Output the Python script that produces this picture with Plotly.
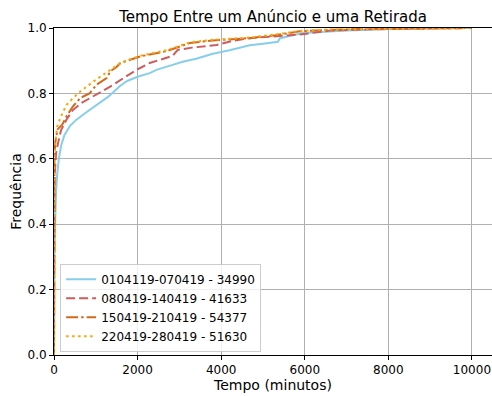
import plotly.graph_objects as go

# Series data (CDF of time between an ad and its removal)
labels = ["0104119-070419 - 34990", "080419-140419 - 41633",
          "150419-210419 - 54377", "220419-280419 - 51630"]

x_s1 = [0, 0, 10, 20, 30, 50, 75, 115, 170, 250, 380, 530, 750, 1040, 1300, 1490, 1570, 1750, 2000, 2290,
        2450, 2700, 3080, 3400, 3800, 4200, 4680, 5000, 5320, 5360, 5400, 5600, 5960, 6500, 7000, 7870,
        8500, 9000, 10000]
y_s1 = [0, 0.15, 0.3, 0.38, 0.43, 0.5, 0.55, 0.60, 0.64, 0.673, 0.70, 0.719, 0.74, 0.765, 0.79, 0.812, 0.822,
        0.838, 0.851, 0.862, 0.872, 0.882, 0.897, 0.906, 0.921, 0.932, 0.947, 0.952, 0.957, 0.958, 0.968, 0.975,
        0.985, 0.989, 0.992, 0.996, 0.998, 0.999, 1.0]

x_s2 = [0, 0, 5, 10, 20, 50, 100, 170, 300, 450, 650, 925, 1150, 1425, 1700, 1975, 2290, 2540, 2840, 2960,
        3300, 3890, 4280, 4680, 5400, 5880, 6600, 7500, 8500, 9500, 10000]
y_s2 = [0, 0.2, 0.4, 0.5, 0.56, 0.617, 0.65, 0.688, 0.72, 0.749, 0.77, 0.79, 0.805, 0.827, 0.85, 0.872, 0.893,
        0.903, 0.915, 0.933, 0.94, 0.948, 0.961, 0.969, 0.976, 0.98, 0.992, 0.996, 0.998, 0.999, 1.0]

x_s3 = [0, 0, 3, 10, 30, 85, 200, 300, 450, 630, 850, 1020, 1260, 1350, 1490, 1590, 2060, 2290, 2690, 3250,
        3800, 4680, 5300, 5880, 6500, 7500, 8500, 10000]
y_s3 = [0, 0.3, 0.5, 0.6, 0.65, 0.69, 0.705, 0.73, 0.76, 0.786, 0.80, 0.827, 0.847, 0.868, 0.88, 0.893, 0.913,
        0.918, 0.929, 0.954, 0.962, 0.969, 0.978, 0.99, 0.994, 0.997, 0.999, 1.0]

x_s4 = [0, 0, 3, 10, 40, 80, 150, 300, 450, 630, 950, 1190, 1430, 1590, 2060, 2290, 2690, 3250, 3800, 4680,
        5300, 5880, 6500, 7500, 8500, 10000]
y_s4 = [0, 0.4, 0.55, 0.62, 0.66, 0.70, 0.725, 0.765, 0.785, 0.806, 0.837, 0.857, 0.878, 0.893, 0.915, 0.921,
        0.932, 0.956, 0.964, 0.971, 0.98, 0.991, 0.995, 0.997, 0.999, 1.0]

x_ticks = [0, 2000, 4000, 6000, 8000, 10000]
y_ticks = [0.0, 0.2, 0.4, 0.6, 0.8, 1.0]

series = [
    (x_s1, y_s1, "#87CEEB", "solid"),
    (x_s2, y_s2, "#CD5C5C", "9px,4px"),
    (x_s3, y_s3, "#D2691E", "12px,3px,2.5px,3px"),
    (x_s4, y_s4, "#FFA500", "2.5px,3.5px"),
]

fig = go.Figure()
for (xs, ys, c, d), name in zip(series, labels):
    fig.add_trace(go.Scatter(x=xs, y=ys, mode="lines", name=name,
                             line=dict(color=c, width=2, dash=d)))

font = "DejaVu Sans, sans-serif"
fig.update_layout(
    width=492, height=396,
    margin=dict(l=54, r=0, t=28, b=41),
    paper_bgcolor="white", plot_bgcolor="white",
    font=dict(family=font, size=12, color="black"),
    title=dict(text="Tempo Entre um Anúncio e uma Retirada", x=0.555, xanchor="center",
               y=1 - 17 / 396, yanchor="middle", yref="container",
               font=dict(size=15, family=font, color="black")),
    showlegend=True,
    legend=dict(x=0.014, y=0.01, xanchor="left", yanchor="bottom",
                bgcolor="rgba(255,255,255,0.8)", bordercolor="#cccccc", borderwidth=1,
                font=dict(size=12, family=font), tracegroupgap=0),
)
fig.update_xaxes(range=[0, 10480], tickvals=x_ticks, ticktext=[str(v) for v in x_ticks],
                 showgrid=True, gridcolor="#b0b0b0", gridwidth=1, zeroline=False,
                 showline=True, linecolor="black", linewidth=1, mirror=True,
                 ticks="outside", ticklen=4, tickcolor="black",
                 title=dict(text="Tempo (minutos)", standoff=2))
fig.update_yaxes(range=[0, 1], tickvals=y_ticks, ticktext=[f"{v:.1f}" for v in y_ticks],
                 showgrid=True, gridcolor="#b0b0b0", gridwidth=1, zeroline=False,
                 showline=True, linecolor="black", linewidth=1,
                 ticks="outside", ticklen=4, tickcolor="black",
                 title=dict(text="Frequência", standoff=2))

fig.write_html("out.html", config={"displayModeBar": False},
               post_script="document.body.style.margin='0';document.body.style.padding='0';")
